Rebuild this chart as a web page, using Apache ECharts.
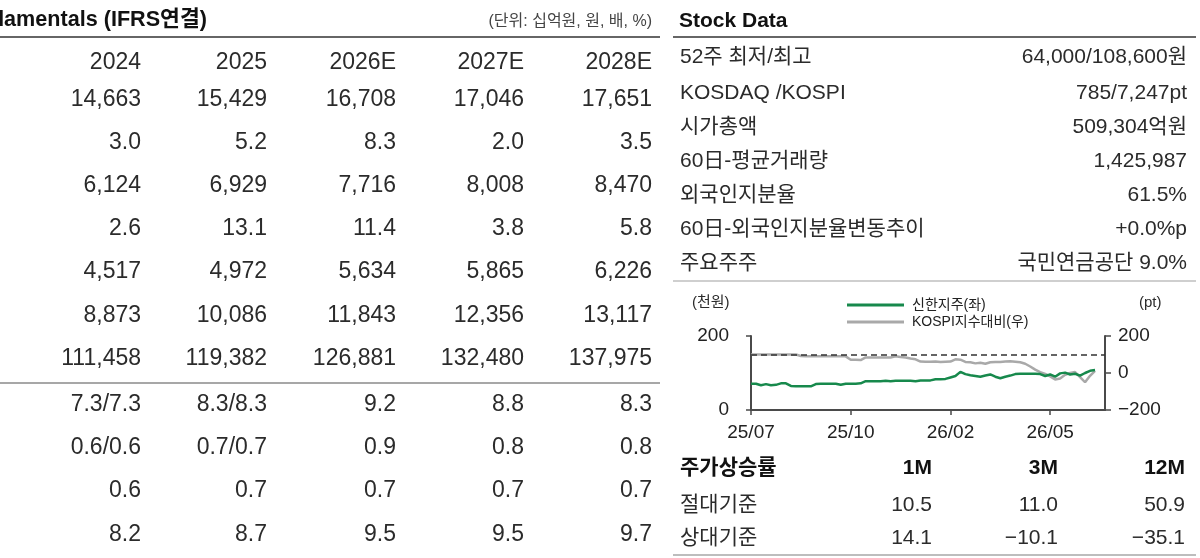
<!DOCTYPE html>
<html>
<head>
<meta charset="utf-8">
<script src="https://cdn.jsdelivr.net/npm/echarts@6/dist/echarts.min.js"></script>
<style>
  html, body { margin: 0; padding: 0; background: #fff; }
  #main { width: 1200px; height: 558px; }
</style>
</head>
<body>
<div id="main"></div>
<script>
// ---- data ----
const fundTitle = 'Fundamentals (IFRS연결)'
const fundUnit = '(단위: 십억원, 원, 배, %)'
const years = ['2024', '2025', '2026E', '2027E', '2028E']
const fundTop = [
  ['14,663', '15,429', '16,708', '17,046', '17,651'],
  ['3.0', '5.2', '8.3', '2.0', '3.5'],
  ['6,124', '6,929', '7,716', '8,008', '8,470'],
  ['2.6', '13.1', '11.4', '3.8', '5.8'],
  ['4,517', '4,972', '5,634', '5,865', '6,226'],
  ['8,873', '10,086', '11,843', '12,356', '13,117'],
  ['111,458', '119,382', '126,881', '132,480', '137,975']
]
const fundBottom = [
  ['7.3/7.3', '8.3/8.3', '9.2', '8.8', '8.3'],
  ['0.6/0.6', '0.7/0.7', '0.9', '0.8', '0.8'],
  ['0.6', '0.7', '0.7', '0.7', '0.7'],
  ['8.2', '8.7', '9.5', '9.5', '9.7']
]

const stockTitle = 'Stock Data'
const stockLabels = ['52주 최저/최고', 'KOSDAQ /KOSPI', '시가총액', '60日-평균거래량',
  '외국인지분율', '60日-외국인지분율변동추이', '주요주주']
const stockValues = ['64,000/108,600원', '785/7,247pt', '509,304억원', '1,425,987',
  '61.5%', '+0.0%p', '국민연금공단 9.0%']

const perfHead = ['주가상승률', '1M', '3M', '12M']
const perfRows = [
  ['절대기준', '10.5', '11.0', '50.9'],
  ['상대기준', '14.1', '−10.1', '−35.1']
]

const seriesNames = ['신한지주(좌)', 'KOSPI지수대비(우)']
const xTicks = ['25/07', '25/10', '26/02', '26/05']
const tickStep = 20
const pointCount = 72
// 신한지주 주가 (천원)
const shinhan = [71, 71, 67, 70, 67, 68, 72, 72, 65, 64,
  64, 64, 64, 70, 71, 71, 71, 71, 68, 71,
  71, 71, 72, 78, 78, 78, 78, 79, 78, 79,
  79, 79, 79, 78, 80, 80, 80, 83, 83, 84,
  88, 92, 103, 97, 94, 92, 90, 93, 96, 90,
  86, 90, 93, 97, 98, 98, 98, 98, 97, 92,
  96, 90, 99, 101, 96, 98, 93, 100, 106, 108]
// KOSPI 지수대비 (pt)
const kospiRel = [100, 100, 100, 100, 100, 100, 100, 100, 100, 100,
  92, 90, 90, 90, 90, 90, 90, 90, 90, 90,
  72, 72, 70, 84, 84, 84, 84, 84, 84, 90,
  86, 84, 78, 74, 62, 61, 61, 62, 60, 61,
  62, 74, 72, 60, 58, 52, 55, 50, 58, 60,
  60, 62, 63, 61, 58, 50, 35, 18, 5, -5,
  -18, -35, -30, -10, 0, 5, -22, -50, -15, 12]
const baseLine = 100

// ---- layout / style ----
const FONT = "'Liberation Sans', 'Noto Sans CJK KR', sans-serif"
const TXT = '#2b2b2b'
const GREEN = '#17894c'
const GRAY = '#a9a9a9'

const colRight = [141, 267, 396, 524, 652]
const topRowsY = [100, 143, 186, 229, 272, 316, 359]
const bottomRowsY = [405, 448, 491, 535]
const stockRowsY = [57, 93, 127, 161, 195, 229, 263]
const perfCols = [932, 1058, 1185]
const perfRowsY = [505, 538]

function txt (text, x, y, size, opts = {}) {
  const align = opts.align || 'left'
  return {
    type: 'text',
    x: x,
    y: y,
    silent: true,
    style: {
      text: text,
      font: (opts.bold ? 'bold ' : '') + size + 'px ' + FONT,
      fill: opts.color || TXT,
      align: align,
      verticalAlign: 'middle',
      textAlign: align,
      textVerticalAlign: 'middle'
    }
  }
}

function hline (x1, x2, y, color, width) {
  return {
    type: 'line',
    silent: true,
    shape: { x1: x1, y1: y, x2: x2, y2: y },
    style: { stroke: color, lineWidth: width }
  }
}

const elements = []
// left table
elements.push(txt(fundTitle, 207, 20, 21.6, { bold: true, align: 'right', color: '#111' }))
elements.push(txt(fundUnit, 652, 22, 16, { align: 'right', color: '#444' }))
elements.push(hline(0, 660, 37, '#333', 1.5))
years.forEach((y, i) => elements.push(txt(y, colRight[i], 63, 23, { align: 'right' })))
fundTop.forEach((row, r) => row.forEach((v, i) => {
  elements.push(txt(v, colRight[i], topRowsY[r], 23, { align: 'right' }))
}))
elements.push(hline(0, 660, 383, '#8a8a8a', 1.5))
fundBottom.forEach((row, r) => row.forEach((v, i) => {
  elements.push(txt(v, colRight[i], bottomRowsY[r], 23, { align: 'right' }))
}))

// right table
elements.push(txt(stockTitle, 679, 21, 21, { bold: true, color: '#111' }))
elements.push(hline(673, 1196, 37, '#333', 1.5))
stockLabels.forEach((l, i) => {
  elements.push(txt(l, 680, stockRowsY[i], 21))
  elements.push(txt(stockValues[i], 1187, stockRowsY[i], 21, { align: 'right' }))
})
elements.push(hline(673, 1196, 281, '#cfcfcf', 2))

// chart unit labels
elements.push(txt('(천원)', 692, 303, 15))
elements.push(txt('(pt)', 1139, 303, 15))

// performance table
elements.push(txt(perfHead[0], 680, 468, 21, { bold: true, color: '#111' }))
perfCols.forEach((x, i) => elements.push(txt(perfHead[i + 1], x, 468, 21, { bold: true, align: 'right', color: '#111' })))
perfRows.forEach((row, r) => {
  elements.push(txt(row[0], 680, perfRowsY[r], 21))
  perfCols.forEach((x, i) => elements.push(txt(row[i + 1], x, perfRowsY[r], 21, { align: 'right' })))
})
elements.push(hline(673, 1196, 555, '#bdbdbd', 2))

const categories = Array.from({ length: pointCount }, (_, i) => String(i))
const axisColor = '#4a4a4a'
const axisLabelStyle = { fontSize: 19, color: '#222', fontFamily: FONT }

const chart = echarts.init(document.getElementById('main'))
chart.setOption({
  animation: false,
  graphic: { elements: elements },
  legend: {
    left: 842,
    top: 293,
    orient: 'vertical',
    icon: 'rect',
    itemWidth: 57,
    itemHeight: 3,
    itemGap: 3,
    textStyle: { fontSize: 14, color: '#222', fontFamily: FONT, padding: [0, 0, 0, 3] },
    data: [seriesNames[0], seriesNames[1]]
  },
  grid: { left: 751, right: 95, top: 336, bottom: 148 },
  xAxis: {
    type: 'category',
    boundaryGap: false,
    data: categories,
    axisLine: { lineStyle: { color: axisColor, width: 2 } },
    axisTick: {
      interval: (i) => i % tickStep === 0,
      length: 5,
      lineStyle: { color: axisColor, width: 1.5 }
    },
    axisLabel: {
      interval: (i) => i % tickStep === 0,
      formatter: (v, i) => xTicks[Math.round(i / tickStep)] || '',
      margin: 13,
      ...axisLabelStyle
    },
    splitLine: { show: false }
  },
  yAxis: [
    {
      type: 'value',
      position: 'left',
      min: 0,
      max: 200,
      interval: 200,
      axisLine: { show: true, lineStyle: { color: axisColor, width: 2 } },
      axisTick: { show: true, length: 5, lineStyle: { color: axisColor, width: 1.5 } },
      axisLabel: { margin: 22, ...axisLabelStyle },
      splitLine: { show: false }
    },
    {
      type: 'value',
      position: 'right',
      min: -200,
      max: 200,
      interval: 200,
      axisLine: { show: true, lineStyle: { color: axisColor, width: 2 } },
      axisTick: { show: true, length: 6, lineStyle: { color: axisColor, width: 1.5 } },
      axisLabel: {
        margin: 13,
        formatter: (v) => (v < 0 ? '−' + Math.abs(v) : String(v)),
        ...axisLabelStyle
      },
      splitLine: { show: false }
    }
  ],
  series: [
    {
      name: seriesNames[1],
      type: 'line',
      yAxisIndex: 1,
      data: kospiRel,
      symbol: 'none',
      color: GRAY,
      lineStyle: { color: GRAY, width: 2.5 },
      markLine: {
        silent: true,
        symbol: 'none',
        label: { show: false },
        lineStyle: { color: '#333', type: [6, 4], width: 1.5 },
        data: [{ yAxis: baseLine }]
      }
    },
    {
      name: seriesNames[0],
      type: 'line',
      yAxisIndex: 0,
      data: shinhan,
      symbol: 'none',
      color: GREEN,
      lineStyle: { color: GREEN, width: 2.5 }
    }
  ]
})
</script>
</body>
</html>
